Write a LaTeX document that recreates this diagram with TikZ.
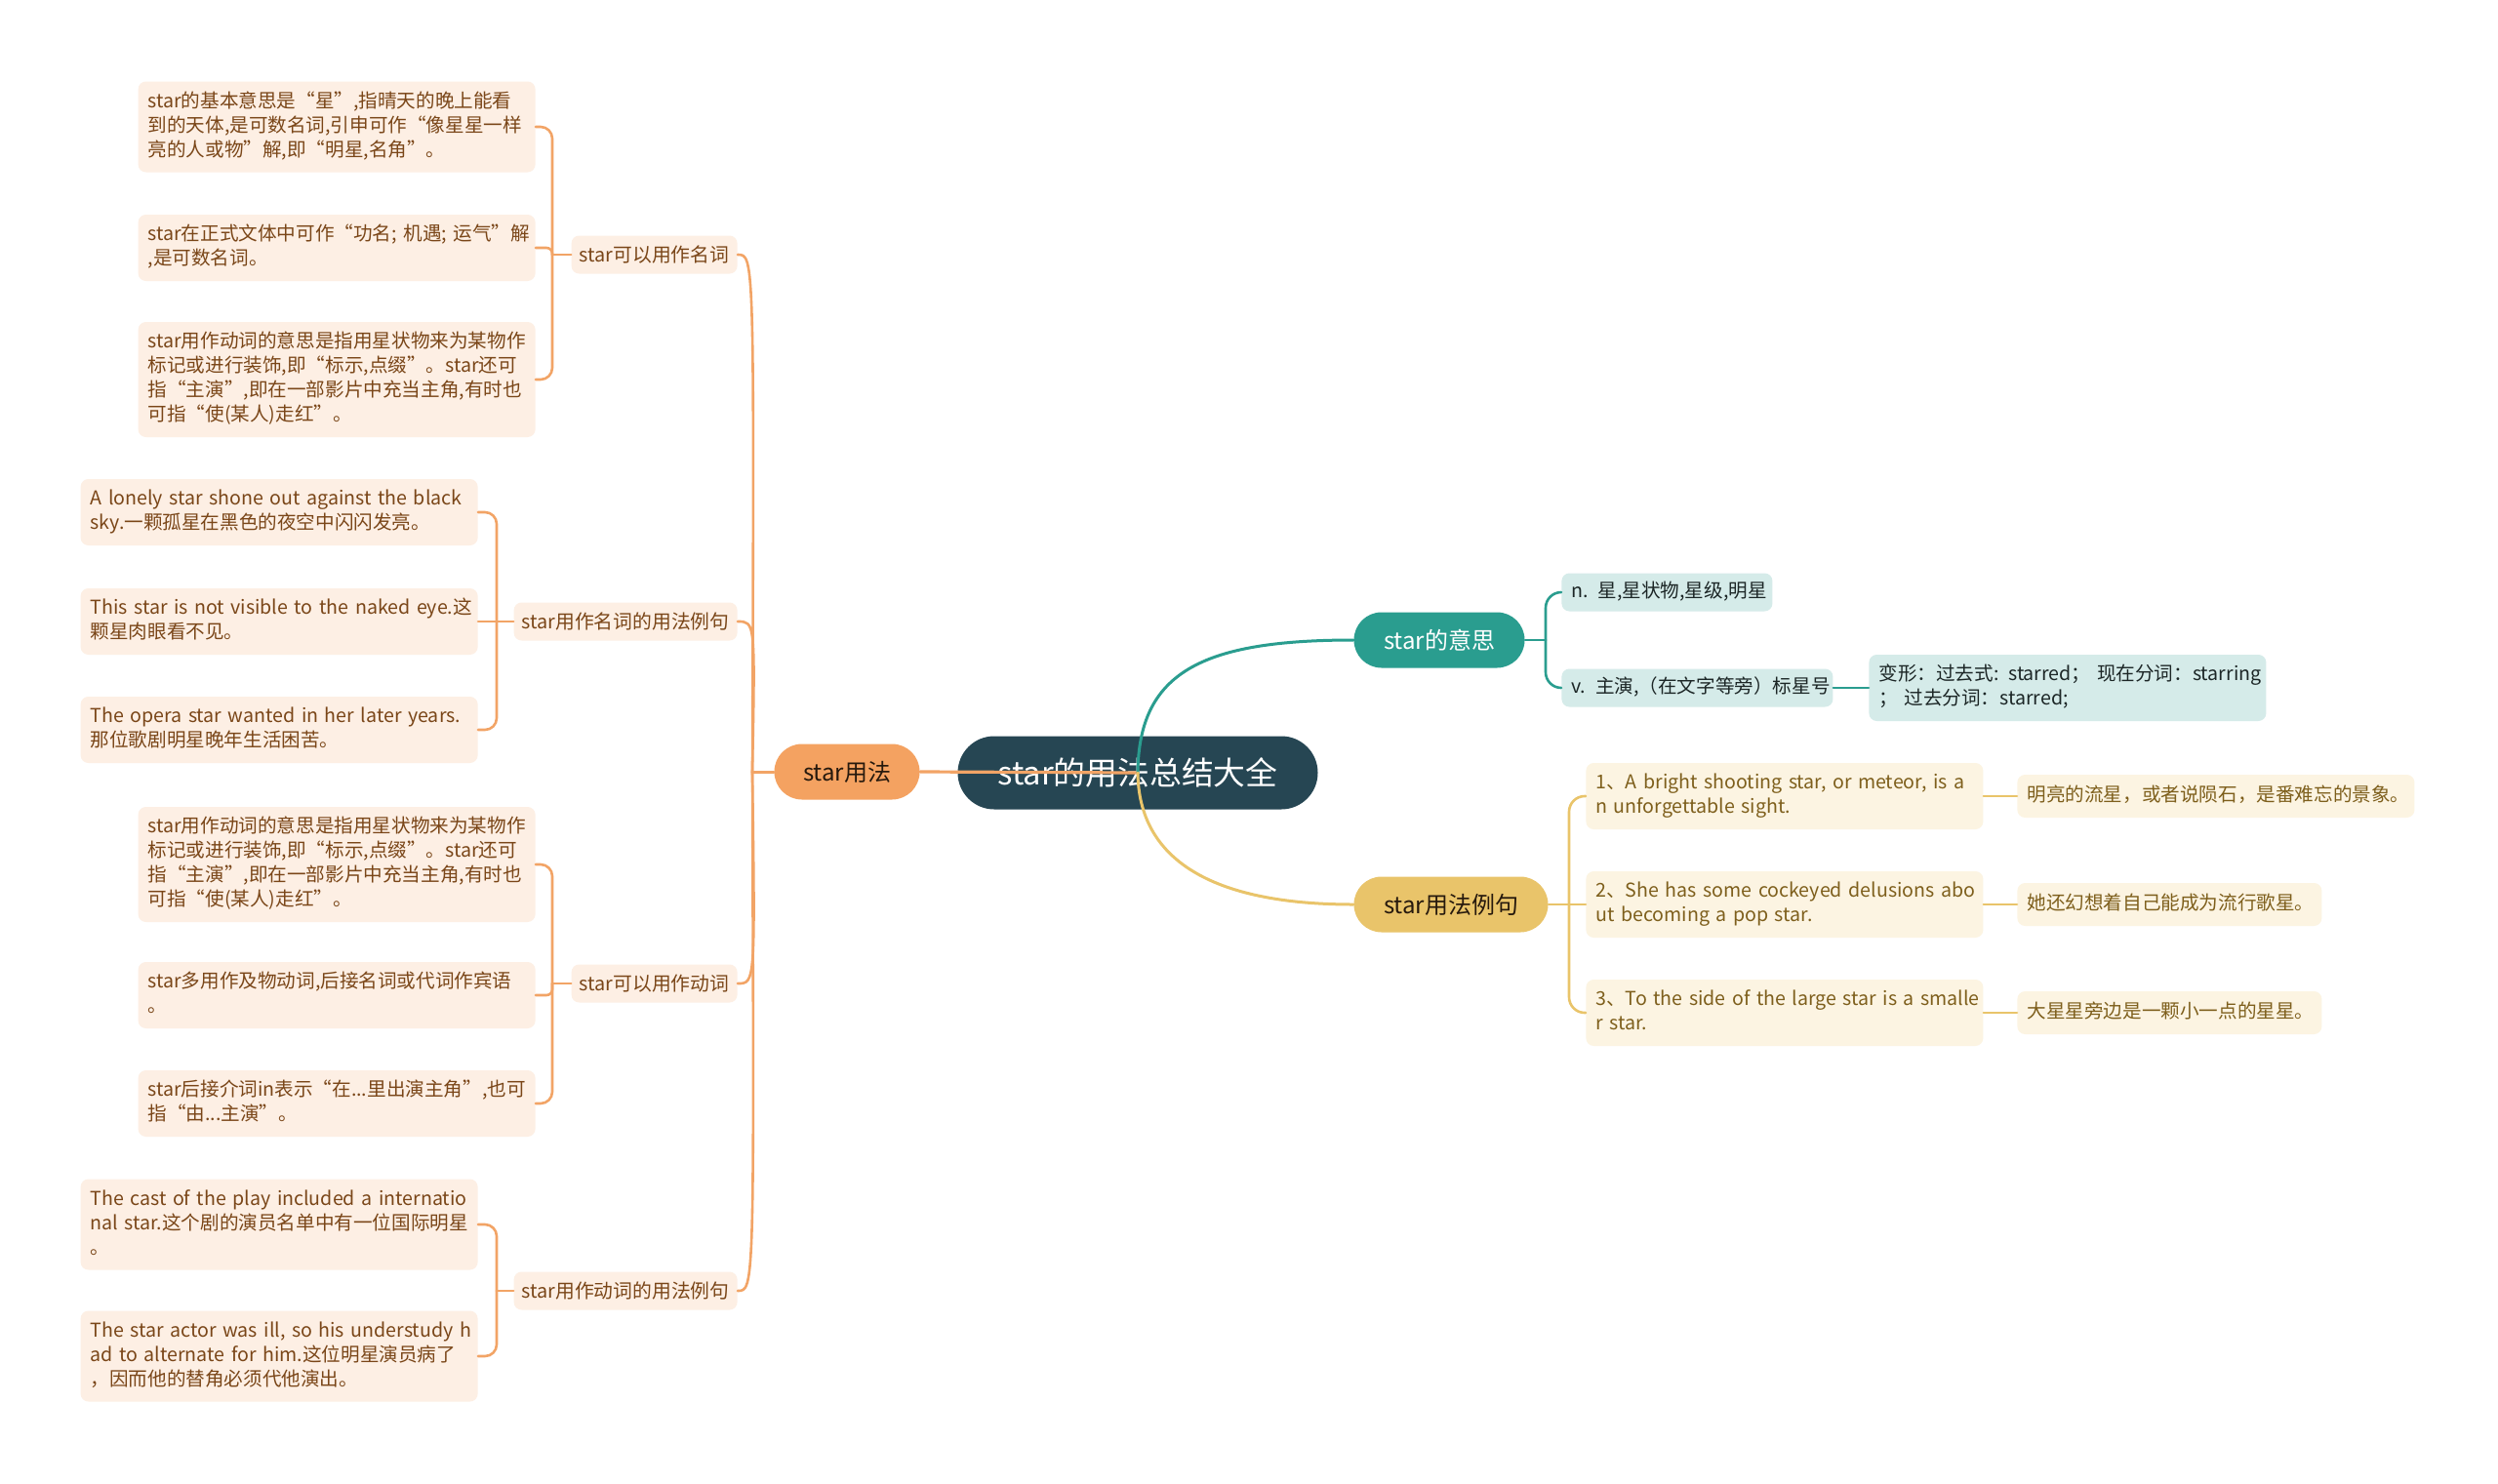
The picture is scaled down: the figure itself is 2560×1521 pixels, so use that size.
\documentclass[tikz,border=0pt]{standalone}
\usepackage{fontspec}
\setmainfont{Noto Sans CJK SC}
\usetikzlibrary{calc}
\definecolor{cMain}{HTML}{264653}
\definecolor{cTeal}{HTML}{2A9D8F}
\definecolor{cYel}{HTML}{E9C46A}
\definecolor{cOr}{HTML}{F2A466}
\definecolor{cOrFill}{HTML}{F4A261}
\definecolor{oLeaf}{HTML}{FDEFE4}
\definecolor{oText}{HTML}{7A4618}
\definecolor{yLeaf}{HTML}{FCF4E2}
\definecolor{yText}{HTML}{7E5F1C}
\definecolor{tLeaf}{HTML}{D5EBE9}
\definecolor{tText}{HTML}{1C2626}
\newcommand{\mylines}[1]{\raisebox{-1.2pt}{\begin{tabular}{@{}l@{}}#1\end{tabular}}}
\begin{document}
\begin{tikzpicture}[x=0.5pt,y=-0.5pt,
  conn/.style={line width=1.3pt, line cap=round},
  oc/.style={conn, draw=cOr},
  tc/.style={conn, draw=cTeal},
  yc/.style={conn, draw=cYel},
  pill/.style={rounded corners=14.2pt, minimum height=28.5pt, inner sep=0pt, font=\fontsize{12}{14}\selectfont},
  leaf/.style={rounded corners=4pt, inner xsep=5pt, inner ysep=4.5pt, text width=193.5pt, align=left, font=\fontsize{9.8}{12.5}\selectfont},
  leafO/.style={leaf, fill=oLeaf, text=oText},
  leafY/.style={leaf, fill=yLeaf, text=yText},
  leafT/.style={leaf, fill=tLeaf, text=tText},
  sub/.style={rounded corners=4pt, minimum height=19.5pt, inner sep=0pt, fill=oLeaf, text=oText, font=\fontsize{9.9}{12}\selectfont},
]
\useasboundingbox (0,0) rectangle (2560,1521);
\fill[white] (0,0) rectangle (2560,1521);

% central topic
\node[fill=cMain, text=white, rounded corners=18.7pt, minimum width=184.5pt, minimum height=37.5pt, inner sep=0pt, font=\fontsize{16.4}{18}\selectfont] (C) at (1166,792) {star的用法总结大全};

% main branches
\node[pill, fill=cOrFill, text={black!80!brown}, minimum width=74.5pt] (B) at (868,791) {star用法};
\node[pill, fill=cTeal, text=white, minimum width=87.5pt] (Mn) at (1475,656) {star的意思};
\node[pill, fill=cYel, text={black!80!brown}, minimum width=99.5pt] (Yn) at (1487,927) {star用法例句};

% level 2 (left)
\node[sub, anchor=east, minimum width=85pt] (A1) at (756,261) {star可以用作名词};
\node[sub, anchor=east, minimum width=114.5pt] (A2) at (756,637) {star用作名词的用法例句};
\node[sub, anchor=east, minimum width=85pt] (A3) at (756,1008) {star可以用作动词};
\node[sub, anchor=east, minimum width=114.5pt] (A4) at (756,1323) {star用作动词的用法例句};

% leaves group 1
\node[leafO, anchor=east] (L1) at (549,130) {\mylines{star的基本意思是“星”,指晴天的晚上能看\\到的天体,是可数名词,引申可作“像星星一样\\亮的人或物”解,即“明星,名角”。}};
\node[leafO, anchor=east] (L2) at (549,254) {\mylines{star在正式文体中可作“功名; 机遇; 运气”解\\,是可数名词。}};
\node[leafO, anchor=east] (L3) at (549,389) {\mylines{star用作动词的意思是指用星状物来为某物作\\标记或进行装饰,即“标示,点缀”。star还可\\指“主演”,即在一部影片中充当主角,有时也\\可指“使(某人)走红”。}};
% leaves group 2
\node[leafO, anchor=east] (M1) at (490,525) {\mylines{A lonely star shone out against the black\\sky.一颗孤星在黑色的夜空中闪闪发亮。}};
\node[leafO, anchor=east] (M2) at (490,637) {\mylines{This star is not visible to the naked eye.这\\颗星肉眼看不见。}};
\node[leafO, anchor=east] (M3) at (490,748) {\mylines{The opera star wanted in her later years.\\那位歌剧明星晚年生活困苦。}};
% leaves group 3
\node[leafO, anchor=east] (V1) at (549,886) {\mylines{star用作动词的意思是指用星状物来为某物作\\标记或进行装饰,即“标示,点缀”。star还可\\指“主演”,即在一部影片中充当主角,有时也\\可指“使(某人)走红”。}};
\node[leafO, anchor=east] (V2) at (549,1020) {\mylines{star多用作及物动词,后接名词或代词作宾语\\。}};
\node[leafO, anchor=east] (V3) at (549,1131) {\mylines{star后接介词in表示“在...里出演主角”,也可\\指“由...主演”。}};
% leaves group 4
\node[leafO, anchor=east] (E1) at (490,1255) {\mylines{The cast of the play included a internatio\\nal star.这个剧的演员名单中有一位国际明星\\。}};
\node[leafO, anchor=east] (E2) at (490,1390) {\mylines{The star actor was ill, so his understudy h\\ad to alternate for him.这位明星演员病了\\，因而他的替角必须代他演出。}};

% teal leaves
\node[leafT, anchor=west, text width=98pt, inner ysep=3.5pt] (T1) at (1600,607) {\mylines{n. 星,星状物,星级,明星}};
\node[leafT, anchor=west, text width=129pt, inner ysep=3.5pt] (T2) at (1600,705) {\mylines{v. 主演,（在文字等旁）标星号}};
\node[leafT, anchor=west] (T3) at (1915,705) {\mylines{变形：过去式: starred； 现在分词：starring\\；\ 过去分词：starred;}};

% yellow leaves
\node[leafY, anchor=west] (Y1) at (1625,816) {\mylines{1、A bright shooting star, or meteor, is a\\n unforgettable sight.}};
\node[leafY, anchor=west] (Y2) at (1625,927) {\mylines{2、She has some cockeyed delusions abo\\ut becoming a pop star.}};
\node[leafY, anchor=west] (Y3) at (1625,1038) {\mylines{3、To the side of the large star is a smalle\\r star.}};
\node[leafY, anchor=west, inner ysep=4.75pt] (Z1) at (2067,816) {\mylines{明亮的流星，或者说陨石，是番难忘的景象。}};
\node[leafY, anchor=west, text width=146pt, inner ysep=4.75pt] (Z2) at (2067,927) {\mylines{她还幻想着自己能成为流行歌星。}};
\node[leafY, anchor=west, text width=146pt, inner ysep=4.75pt] (Z3) at (2067,1038) {\mylines{大星星旁边是一颗小一点的星星。}};

% junction coordinates
\coordinate (P) at (771,791);
\coordinate (j1) at (566,261);
\coordinate (j2) at (509,637);
\coordinate (j3) at (566,1008);
\coordinate (j4) at (509,1323);
\coordinate (j5) at (1584,656);
\coordinate (j6) at (1608,927);

% orange spine
\draw[oc, line width=1.5pt] (B.west) -- (P);
\draw[oc] (P) .. controls (773,261) and (773,261) .. (A1.east);
\draw[oc] (P) .. controls (774,637) and (774,637) .. (A2.east);
\draw[oc] (P) .. controls (774,1008) and (774,1008) .. (A3.east);
\draw[oc] (P) .. controls (773,1323) and (773,1323) .. (A4.east);

% group brackets
\draw[oc] (A1.west) -- (j1);
\draw[oc, rounded corners=6pt] (j1) |- (L1.east);
\draw[oc, rounded corners=3pt] (j1) |- (L2.east);
\draw[oc, rounded corners=6pt] (j1) |- (L3.east);

\draw[oc] (A2.west) -- (j2);
\draw[oc, rounded corners=6pt] (j2) |- (M1.east);
\draw[oc] (j2) -- (M2.east);
\draw[oc, rounded corners=6pt] (j2) |- (M3.east);

\draw[oc] (A3.west) -- (j3);
\draw[oc, rounded corners=6pt] (j3) |- (V1.east);
\draw[oc, rounded corners=3pt] (j3) |- (V2.east);
\draw[oc, rounded corners=6pt] (j3) |- (V3.east);

\draw[oc] (A4.west) -- (j4);
\draw[oc, rounded corners=6pt] (j4) |- (E1.east);
\draw[oc, rounded corners=6pt] (j4) |- (E2.east);

% teal branch
\draw[tc] (Mn.east) -- (j5);
\draw[tc, rounded corners=8pt] (j5) |- (T1.west);
\draw[tc, rounded corners=8pt] (j5) |- (T2.west);
\draw[tc] (T2.east) -- (T3.west);

% yellow branch
\draw[yc] (Yn.east) -- (j6);
\draw[yc, rounded corners=8pt] (j6) |- (Y1.west);
\draw[yc] (j6) -- (Y2.west);
\draw[yc, rounded corners=8pt] (j6) |- (Y3.west);
\draw[yc] (Y1.east) -- (Z1.west);
\draw[yc] (Y2.east) -- (Z2.west);
\draw[yc] (Y3.east) -- (Z3.west);

% connectors from the central topic (drawn over it)
\draw[oc, line width=1.6pt] (C.center) -- (B.east);
\draw[tc, line width=1.5pt] (C.center) .. controls (1167,690) and (1230,656) .. (Mn.west);
\draw[yc, line width=1.5pt] (C.center) .. controls (1167,880) and (1240,927) .. (Yn.west);
\end{tikzpicture}
\end{document}
